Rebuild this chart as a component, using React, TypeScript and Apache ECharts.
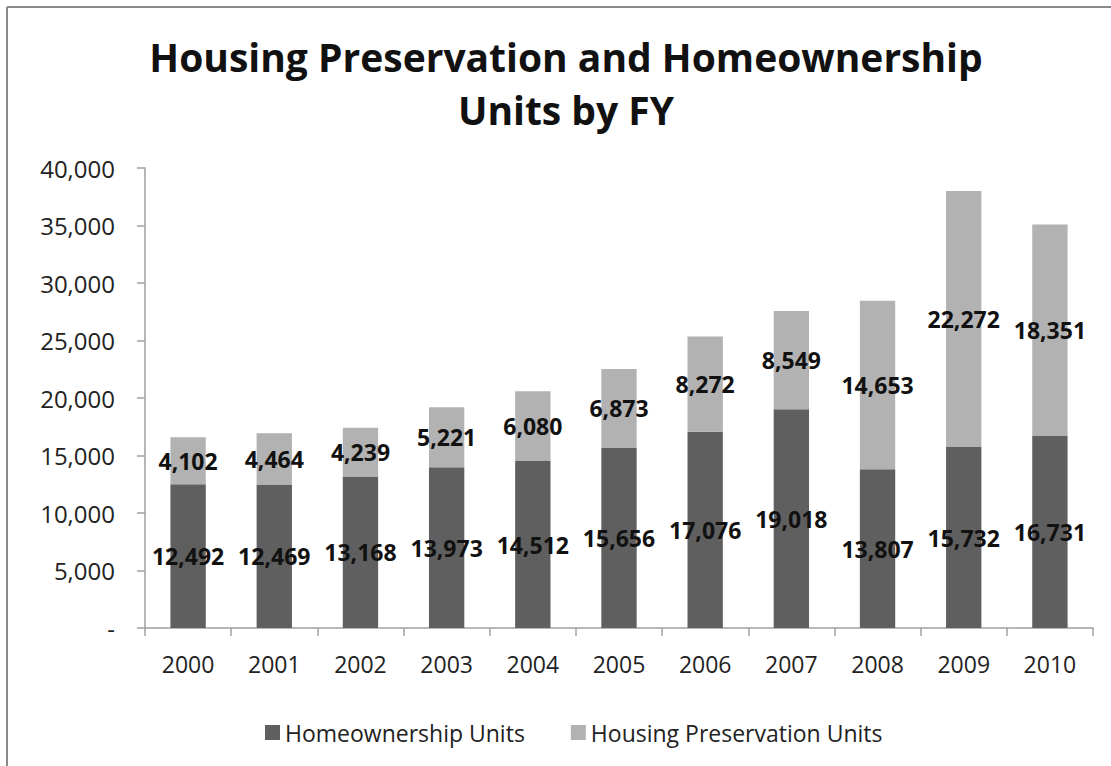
import React, { useEffect, useRef } from "react";
import * as echarts from "echarts";

const years = ["2000", "2001", "2002", "2003", "2004", "2005", "2006", "2007", "2008", "2009", "2010"];
const homeownership = [12492, 12469, 13168, 13973, 14512, 15656, 17076, 19018, 13807, 15732, 16731];
const preservation = [4102, 4464, 4239, 5221, 6080, 6873, 8272, 8549, 14653, 22272, 18351];
const seriesNames = ["Homeownership Units", "Housing Preservation Units"];
const titleLines = ["Housing Preservation and Homeownership", "Units by FY"];

const fmt = (v: number) => (v === 0 ? "-" : v.toLocaleString("en-US"));

export default function App() {
  const ref = useRef<HTMLDivElement>(null);
  useEffect(() => {
    if (!ref.current) return;
    const chart = echarts.init(ref.current, undefined, { renderer: "svg" });
    const labelStyle = {
      show: true,
      position: "inside" as const,
      color: "#111",
      fontFamily: "Open Sans",
      fontWeight: "bold" as const,
      fontSize: 23,
      formatter: (p: any) => fmt(p.value),
    };
    chart.setOption({
      animation: false,
      backgroundColor: "#fff",
      title: {
        text: titleLines.join("\n"),
        left: 561,
        top: 25,
        textAlign: "center",
        textStyle: {
          fontFamily: "Open Sans",
          fontWeight: "bold",
          fontSize: 39,
          lineHeight: 53,
          color: "#111",
        },
      },
      graphic: [
        { type: "line", shape: { x1: 7, y1: 7, x2: 1111, y2: 7 }, style: { stroke: "#8a8a8a", lineWidth: 2 } },
        { type: "line", shape: { x1: 7, y1: 7, x2: 7, y2: 766 }, style: { stroke: "#8a8a8a", lineWidth: 2 } },
      ],
      legend: {
        data: seriesNames,
        left: 260,
        top: 716,
        icon: "rect",
        itemWidth: 15,
        itemHeight: 15,
        itemGap: 46,
        textStyle: { fontFamily: "Open Sans", fontSize: 23, color: "#222" },
      },
      grid: { left: 145, right: 18, top: 168, bottom: 138 },
      xAxis: {
        type: "category",
        data: years,
        axisLine: { lineStyle: { color: "#a0a0a0", width: 1.5 } },
        axisTick: { show: true, length: 8, lineStyle: { color: "#a0a0a0", width: 1.5 } },
        axisLabel: { fontFamily: "Open Sans", fontSize: 23, color: "#222", margin: 24 },
      },
      yAxis: {
        type: "value",
        min: 0,
        max: 40000,
        interval: 5000,
        axisLine: { show: true, lineStyle: { color: "#a0a0a0", width: 1.5 } },
        axisTick: { show: true, length: 8, lineStyle: { color: "#a0a0a0", width: 1.5 } },
        splitLine: { show: false },
        axisLabel: { fontFamily: "Open Sans", fontSize: 24, color: "#222", margin: 30, formatter: fmt },
      },
      series: [
        {
          name: seriesNames[0],
          type: "bar",
          stack: "total",
          data: homeownership,
          barWidth: "41%",
          itemStyle: { color: "#5f5f5f" },
          label: labelStyle,
        },
        {
          name: seriesNames[1],
          type: "bar",
          stack: "total",
          data: preservation,
          barWidth: "41%",
          itemStyle: { color: "#b2b2b2" },
          label: labelStyle,
        },
      ],
    });
    return () => chart.dispose();
  }, []);
  return <div ref={ref} style={{ position: "fixed", left: 0, top: 0, width: 1111, height: 766 }} />;
}
